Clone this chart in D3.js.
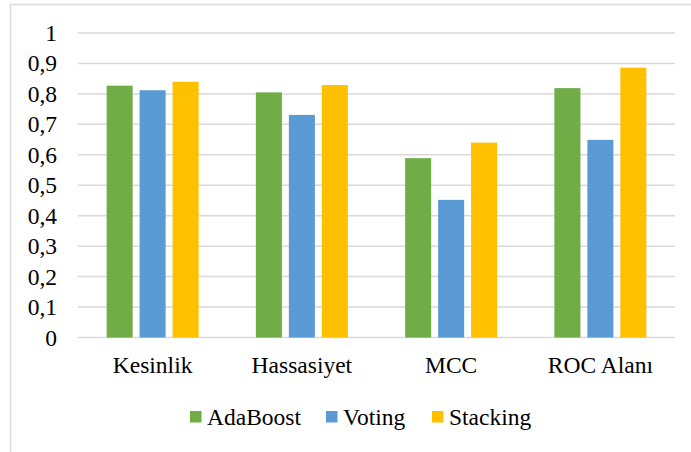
<!DOCTYPE html>
<html>
<head>
<meta charset="utf-8">
<script src="https://cdn.jsdelivr.net/npm/d3@7"></script>
<style>
  html, body { margin: 0; padding: 0; background: #fff; }
  svg { display: block; }
</style>
</head>
<body>
<svg id="chart" width="691" height="452"></svg>
<script>
const categories = ["Kesinlik", "Hassasiyet", "MCC", "ROC Alanı"];
const seriesNames = ["AdaBoost", "Voting", "Stacking"];
const adaBoost = [0.827, 0.805, 0.589, 0.819];
const voting   = [0.812, 0.731, 0.452, 0.649];
const stacking = [0.840, 0.829, 0.640, 0.886];
const yTicks = [0, 0.1, 0.2, 0.3, 0.4, 0.5, 0.6, 0.7, 0.8, 0.9, 1];
const colors = ["#70AD47", "#5B9BD5", "#FFC000"];

const seriesValues = [adaBoost, voting, stacking];
const FONT = "'Liberation Serif', 'Times New Roman', Tinos, 'DejaVu Serif', serif";
const svg = d3.select("#chart");

// outer chart border
svg.append("rect")
  .attr("x", 10.5).attr("y", 4.5)
  .attr("width", 700).attr("height", 500)
  .attr("fill", "none").attr("stroke", "#D9D9D9").attr("stroke-width", 1.5);

const plotLeft = 78, plotRight = 675, plotTop = 33, plotBottom = 337.5;
const x0 = d3.scaleBand().domain(categories).range([plotLeft, plotRight]).paddingInner(0).paddingOuter(0);
const groupWidth = 92;
const x1 = d3.scaleBand().domain(seriesNames).range([0, groupWidth]).paddingInner(0.21).paddingOuter(0);
const y = d3.scaleLinear().domain([0, 1]).range([plotBottom, plotTop]);

// gridlines
svg.append("g").selectAll("line").data(yTicks).join("line")
  .attr("x1", plotLeft).attr("x2", plotRight)
  .attr("y1", d => y(d)).attr("y2", d => y(d))
  .attr("stroke", "#D9D9D9").attr("stroke-width", 1.5);

// y tick labels
svg.append("g").selectAll("text").data(yTicks).join("text")
  .attr("x", 57).attr("y", d => y(d) + 8)
  .attr("text-anchor", "end")
  .style("font-family", FONT).style("font-size", "23.5px").style("fill", "#000")
  .text(d => d3.format(".1~f")(d).replace(".", ","));

// bars
const groups = svg.append("g").selectAll("g").data(categories).join("g")
  .attr("transform", c => `translate(${x0(c) + (x0.bandwidth() - groupWidth) / 2},0)`);
groups.selectAll("rect").data((c, i) => seriesNames.map((s, j) => ({ s, v: seriesValues[j][i], j })))
  .join("rect")
  .attr("x", d => x1(d.s))
  .attr("width", x1.bandwidth())
  .attr("y", d => y(d.v))
  .attr("height", d => y(0) - y(d.v))
  .attr("fill", d => colors[d.j]);

// category labels
svg.append("g").selectAll("text").data(categories).join("text")
  .attr("x", c => x0(c) + x0.bandwidth() / 2)
  .attr("y", 373)
  .attr("text-anchor", "middle")
  .style("font-family", FONT).style("font-size", "23.5px").style("fill", "#000")
  .text(c => c);

// legend
const legendX = [190, 326, 432];
const lg = svg.append("g").selectAll("g").data(seriesNames).join("g")
  .attr("transform", (d, i) => `translate(${legendX[i]},0)`);
lg.append("rect").attr("x", 0).attr("y", 411).attr("width", 11.5).attr("height", 11.5)
  .attr("fill", (d, i) => colors[i]);
lg.append("text").attr("x", 17).attr("y", 425)
  .style("font-family", FONT).style("font-size", "23.5px").style("fill", "#000")
  .text(d => d);
</script>
</body>
</html>
